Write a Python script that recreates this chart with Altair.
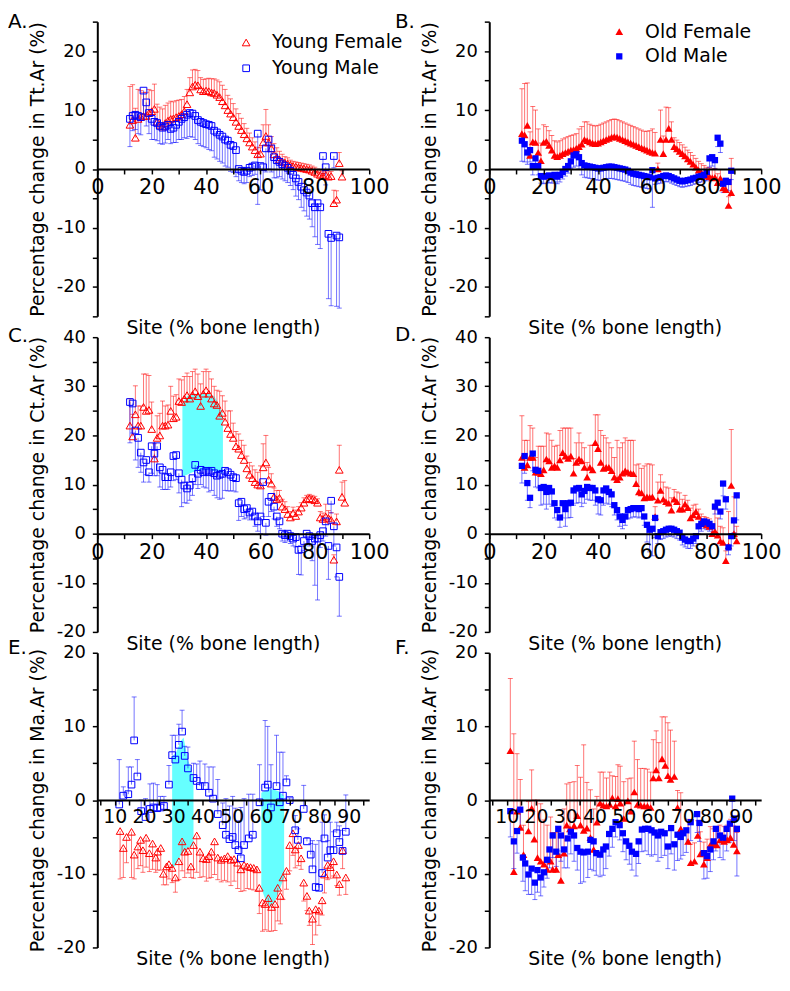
import altair as alt
import pandas as pd

FONT = "DejaVu Sans"
RED = "#ff0000"
BLUE = "#0000ff"
CYAN = "#66ffff"
W, H = 274, 297

# ---------------- Panel A: Tt.Ar, young ----------------
A_f_site = list(range(12, 91))
A_f_val = [7.5, 8.3, 5.3, 8.5, 8.8, 9.0, 9.0, 9.5, 9.8, 10.2,
           8.0, 7.5, 7.2, 7.8, 8.2, 8.5, 8.6, 8.8, 9.0, 9.3,
           9.8, 11.0, 13.0, 14.0, 14.3, 14.2, 13.5, 13.2, 13.3, 13.2,
           13.0, 12.9, 12.6, 12.2, 11.5, 10.8, 10.0, 9.4, 8.8, 8.0,
           7.3, 6.6, 5.9, 5.2, 4.5, 3.8, 3.2, 2.5, 2.6, 4.5,
           5.6, 4.5, 3.5, 2.5, 2.0, 1.6, 1.3, 1.1, 0.9, 0.7,
           0.5, 0.4, 0.3, 0.2, 0.1, 0.0, -0.1, -0.3, -0.5, -0.8,
           -1.0, -1.2, -1.0, -1.3, -1.2, -5.8, -5.2, 1.0, -1.3]
A_f_err = [6.5, 6.0, 5.0, 5.0, 4.5, 4.0, 4.0, 4.0, 3.5, 4.2,
           3.0, 3.0, 3.0, 3.0, 3.0, 3.0, 2.8, 2.8, 2.7, 2.5,
           2.5, 2.5, 2.5, 2.8, 2.6, 2.5, 2.0, 2.0, 2.0, 2.2,
           2.3, 2.4, 2.5, 2.6, 2.7, 2.7, 2.5, 2.5, 2.3, 2.2,
           2.1, 2.0, 1.8, 1.7, 1.6, 1.5, 1.4, 1.2, 1.0, 3.0,
           4.5, 3.0, 2.0, 1.8, 1.6, 1.4, 1.2, 1.0, 1.0, 0.8,
           0.8, 0.8, 0.8, 0.8, 0.8, 0.8, 0.8, 0.8, 0.8, 0.8,
           0.8, 0.8, 0.8, 0.8, 0.8, 2.2, 1.5, 1.8, 1.0]
A_m_site = list(range(12, 90))
A_m_val = [8.5, 9.0, 9.2, 9.0, 8.8, 13.3, 11.3, 9.5, 8.5, 8.0,
           7.8, 7.3, 7.0, 7.2, 7.5, 6.8, 7.0, 7.5, 8.0, 8.5,
           8.8, 9.2, 9.5, 9.4, 9.0, 8.3, 8.0, 7.8, 7.6, 7.5,
           7.3, 6.5, 6.2, 5.8, 5.5, 5.0, 4.8, 4.1, 3.9, 3.2,
           0.0, -0.3, -0.5, -0.3, 0.2, 0.4, 0.6, 6.0, 0.5, 0.3,
           3.5, 5.0, 3.5, 2.0, 1.5, 1.2, 0.8, 0.5, 0.2, -0.3,
           -1.0, -1.6, -2.2, -3.0, -3.6, -4.0, -4.5, -5.8, -6.5, -5.8,
           -6.5, 2.2, 0.3, -11.0, -11.7, 2.2, -11.3, -11.6]
A_m_err = [4.7, 2.5, 2.5, 3.0, 3.0, 4.0, 4.0, 3.5, 3.5, 3.0,
           3.0, 3.0, 2.8, 2.8, 2.5, 2.5, 2.5, 3.0, 3.0, 3.5,
           3.5, 4.0, 4.0, 4.0, 4.0, 4.0, 4.0, 4.0, 4.0, 4.2,
           4.2, 4.5, 4.5, 4.5, 4.5, 4.5, 4.5, 4.5, 4.5, 4.5,
           2.0, 2.0, 2.0, 2.0, 1.5, 1.5, 1.5, 12.0, 4.0, 4.0,
           4.0, 5.0, 4.0, 3.5, 3.0, 2.5, 2.5, 2.5, 2.5, 2.5,
           2.5, 3.0, 3.0, 3.5, 3.5, 4.0, 4.0, 4.0, 5.0, 7.0,
           7.0, 3.0, 3.0, 11.0, 11.5, 2.0, 12.0, 12.0]

# ---------------- Panel B: Tt.Ar, old ----------------
B_f_site = list(range(12, 90))
B_f_val = [6.0, 5.8, 7.4, 2.3, 4.6, 4.5, 2.8, 1.4, 4.5, 4.7,
           4.0, 3.2, 2.3, 2.1, 2.3, 2.6, 2.8, 3.0, 3.2, 3.3,
           3.5, 3.8, 4.2, 5.0, 4.8, 4.6, 4.4, 4.3, 4.4, 4.6,
           4.8, 5.0, 5.2, 5.4, 5.5, 5.4, 5.2, 5.0, 4.8, 4.6,
           4.4, 4.2, 4.0, 3.8, 3.6, 3.4, 3.2, 3.0, 2.8, 2.7,
           0.0, 5.0, 2.6, 5.0, 6.9, 5.0, 3.8, 3.4, 3.0, 2.6,
           2.2, 1.7, 1.3, 0.8, 0.3, -0.2, -0.6, -0.9, -1.2, -1.3,
           -1.5, -1.4, -2.3, -1.6, -3.2, -3.5, -6.2, -4.0]
B_f_err = [7.6, 8.7, 7.2, 4.0, 6.0, 5.5, 4.0, 3.0, 3.0, 2.5,
           2.5, 2.5, 2.5, 2.5, 2.5, 2.5, 2.5, 2.5, 2.5, 2.5,
           2.5, 3.0, 3.0, 3.0, 3.2, 3.0, 3.0, 3.0, 3.0, 3.0,
           3.0, 3.0, 3.0, 3.0, 3.0, 3.0, 3.0, 3.0, 3.0, 3.0,
           3.0, 3.0, 3.0, 3.0, 3.0, 3.0, 3.2, 3.5, 4.0, 3.5,
           1.0, 5.0, 3.0, 5.5, 3.5, 3.0, 1.5, 1.5, 1.5, 1.5,
           1.5, 1.5, 1.5, 1.5, 1.5, 1.5, 1.5, 1.5, 1.5, 1.5,
           1.5, 1.5, 1.5, 1.5, 1.5, 1.5, 1.5, 5.8]
B_m_site = list(range(12, 90))
B_m_val = [4.8, 4.2, 2.8, 3.2, 0.5, 1.8, 0.5, -1.2, -1.3, -1.2,
           -1.1, -1.2, -1.0, -1.3, -1.0, -0.5, 0.0, 0.5, 1.3, 2.3,
           2.5, 2.0, 1.0, 0.6, 0.5, 0.4, 0.3, 0.2, 0.1, 0.1,
           0.2, 0.3, 0.4, 0.4, 0.3, 0.2, 0.1, 0.0, -0.1, -0.3,
           -0.6, -0.8, -0.9, -1.0, -1.1, -1.2, -1.3, -1.4, -0.2, -1.6,
           -1.5, -1.4, -1.2, -1.1, -1.2, -1.4, -1.6, -1.8, -2.0, -2.1,
           -2.0, -1.9, -1.8, -1.6, -1.5, -1.3, -1.2, -1.0, -0.5, 1.8,
           2.0, 1.5, 5.3, 4.3, -2.5, -2.0, -2.2, -0.3]
B_m_err = [3.5, 3.0, 2.0, 2.0, 1.5, 1.5, 1.5, 1.2, 1.2, 1.2,
           1.2, 1.2, 1.2, 1.2, 1.2, 1.2, 1.2, 1.2, 1.2, 2.0,
           2.0, 2.0, 2.0, 2.0, 2.0, 2.0, 2.0, 2.0, 2.0, 2.0,
           2.0, 2.0, 2.0, 2.0, 2.0, 2.0, 2.0, 2.0, 2.0, 2.0,
           2.0, 2.0, 2.0, 2.0, 2.0, 2.0, 2.0, 2.0, 6.3, 1.0,
           1.0, 1.0, 1.0, 1.0, 1.0, 1.0, 1.0, 1.0, 1.0, 1.0,
           1.0, 1.0, 1.0, 1.0, 1.0, 1.0, 1.0, 1.0, 1.5, 1.5,
           1.5, 1.5, 1.5, 1.5, 1.5, 1.5, 1.5, 1.5]

# ---------------- Panel C: Ct.Ar, young ----------------
C_f_site = list(range(12, 92))
C_f_val = [22.0, 19.8, 24.3, 22.0, 22.0, 25.8, 25.0, 25.2, 21.3, 15.3,
           19.5, 20.0, 22.0, 22.0, 22.2, 25.0, 23.5, 23.8, 27.0, 26.8,
           27.5, 28.2, 27.5, 28.3, 29.0, 28.0, 26.0, 28.5, 29.2, 28.5,
           27.5, 26.5, 26.2, 24.0, 24.6, 22.8, 21.5, 20.3, 19.5, 17.8,
           17.3, 16.0, 15.0, 13.3, 12.0, 11.3, 10.5, 10.0, 9.8, 13.5,
           14.5, 11.0, 10.2, 7.5, 7.0, 7.3, 5.5, 5.0, 4.0, 3.3,
           4.2, 3.6, 4.5, 5.3, 6.3, 7.0, 7.2, 7.0, 6.8, 6.3,
           3.3, 3.0, 3.5, 3.2, 2.8, -5.3, 2.5, 13.0, 7.5, 6.3]
C_f_err = [5.5, 4.5, 5.8, 4.0, 4.0, 6.7, 7.5, 7.0, 5.5, 3.0,
           4.5, 4.5, 5.0, 4.0, 4.0, 5.0, 4.5, 4.5, 4.5, 4.5,
           4.5, 4.5, 4.5, 4.7, 4.5, 4.5, 4.5, 4.5, 4.3, 4.5,
           4.0, 3.5, 3.0, 5.0, 3.5, 4.2, 3.5, 4.7, 3.0, 3.0,
           3.0, 3.0, 3.0, 2.5, 2.5, 2.5, 2.5, 2.5, 4.0, 4.8,
           5.5, 2.5, 2.0, 1.8, 1.8, 1.5, 1.5, 1.5, 1.5, 1.2,
           1.2, 1.2, 1.0, 1.0, 1.0, 0.8, 0.8, 0.8, 0.8, 0.8,
           1.2, 1.2, 2.5, 1.5, 1.5, 1.0, 1.5, 5.0, 3.0, 4.5]
C_m_site = list(range(12, 90))
C_m_val = [26.8, 26.5, 21.0, 19.5, 16.5, 14.5, 15.0, 12.5, 17.8, 16.3,
           17.8, 13.5, 13.0, 11.5, 11.5, 12.5, 15.8, 16.0, 12.3, 11.0,
           9.8, 9.2, 9.8, 11.3, 14.0, 12.2, 13.0, 12.5, 12.8, 12.5,
           12.8, 12.3, 11.8, 12.0, 12.2, 12.8, 12.5, 12.0, 11.5, 11.3,
           6.2, 6.5, 5.0, 5.2, 4.3, 4.5, 3.5, 2.5, 3.5, 10.5,
           2.2, 6.5, 7.5, 5.5, 3.5, 2.5, 0.0, -0.3, 0.0, -0.5,
           -1.0, -0.7, -3.3, -3.2, -1.5, 0.0, -0.5, -1.5, -1.0, -1.0,
           -0.3, 0.5, 2.5, -2.5, 6.7, 1.5, -2.8, -8.8]
C_m_err = [8.3, 6.0, 6.0, 6.0, 4.0, 4.0, 3.0, 2.0, 5.5, 4.5,
           6.0, 4.0, 4.0, 2.5, 2.5, 3.0, 5.0, 5.0, 4.0, 5.5,
           3.5, 3.0, 3.0, 3.5, 4.0, 3.0, 3.0, 3.0, 3.5, 4.0,
           4.0, 4.5, 4.5, 5.0, 5.0, 4.0, 3.8, 3.3, 2.8, 2.8,
           3.5, 3.0, 2.0, 2.0, 1.5, 1.5, 2.0, 2.0, 3.5, 7.0,
           2.5, 3.0, 3.0, 2.5, 2.0, 1.5, 1.5, 1.5, 1.5, 1.5,
           1.5, 2.0, 5.0, 5.2, 2.0, 2.0, 2.0, 4.0, 9.5, 12.5,
           2.5, 2.0, 3.0, 6.8, 2.5, 4.0, 6.0, 8.0]
C_shade_site = [31.3, 33, 35, 37, 39, 41, 43, 44.5, 46.2]
C_shade_top = [26.5, 28.0, 28.5, 28.5, 28.5, 28.5, 28.0, 26.5, 24.2]
C_shade_bot = [11.6, 12.0, 12.5, 12.8, 12.9, 12.9, 12.7, 12.5, 12.3]

# ---------------- Panel D: Ct.Ar, old ----------------
D_f_site = list(range(12, 92))
D_f_val = [15.5, 13.5, 14.0, 15.5, 15.5, 12.5, 12.5, 12.2, 13.0, 15.2,
           14.8, 13.5, 13.8, 13.5, 15.0, 16.5, 15.8, 15.3, 15.8, 12.3,
           14.5, 15.2, 14.8, 13.5, 11.5, 13.5, 13.0, 18.5, 17.3, 14.5,
           13.3, 13.5, 13.5, 12.8, 11.5, 11.0, 11.5, 12.3, 12.8, 12.5,
           12.3, 12.2, 10.2, 8.5, 8.3, 7.3, 7.5, 7.4, 7.5, 3.5,
           6.8, 8.8, 7.0, 6.5, 6.2, 4.8, 7.0, 6.5, 5.0, 5.0,
           6.0, 5.3, 3.2, 3.8, 4.5, 3.5, 2.5, 2.0, 1.8, 1.5,
           0.0, 0.5, -0.3, -1.5, -1.8, -5.5, -2.5, 9.8, 0.0, -1.5]
D_f_err = [8.5, 5.5, 5.0, 6.5, 6.0, 3.0, 5.3, 5.6, 4.8, 5.3,
           5.5, 5.5, 4.0, 4.5, 6.0, 5.0, 5.7, 6.2, 5.7, 3.0,
           4.0, 5.3, 3.7, 4.0, 3.0, 4.5, 5.0, 5.7, 6.9, 6.5,
           6.7, 6.0, 5.0, 4.7, 4.0, 8.0, 6.0, 6.2, 6.7, 6.5,
           6.7, 6.8, 3.8, 5.7, 5.0, 6.5, 6.7, 6.8, 6.5, 2.0,
           3.7, 3.2, 3.5, 3.0, 3.1, 2.5, 2.0, 2.0, 3.3, 2.0,
           1.8, 1.5, 2.0, 2.0, 1.5, 1.5, 1.5, 1.5, 1.5, 1.5,
           2.0, 4.5, 3.5, 3.0, 3.0, 2.0, 7.0, 11.4, 7.5, 3.0]
D_m_site = list(range(12, 92))
D_m_val = [13.8, 15.8, 10.3, 7.3, 16.3, 13.0, 12.8, 9.3, 9.5, 8.5,
           9.3, 8.6, 6.2, 4.8, 3.3, 6.2, 5.0, 6.2, 6.3, 8.8,
           9.2, 9.3, 8.0, 8.7, 9.5, 9.3, 9.3, 8.8, 7.0, 6.8,
           8.8, 9.2, 8.5, 8.0, 5.8, 4.8, 3.5, 2.8, 3.5, 4.8,
           5.0, 5.2, 5.2, 5.0, 5.2, 3.5, 1.8, 0.8, 1.0, 3.2,
           -0.5, 0.3, 0.5, 0.8, 1.0, 1.0, 0.8, 0.5, 0.2, -0.8,
           -1.2, -1.5, -1.5, -1.0, -0.5, 1.5, 2.0, 2.5, 2.3, 2.0,
           1.5, 5.5, 6.3, 4.5, 10.2, 7.0, -2.8, -0.5, 2.7, 7.8]
D_m_err = [3.5, 3.5, 3.5, 2.0, 3.5, 3.5, 3.5, 3.5, 3.5, 3.5,
           3.3, 3.0, 3.0, 2.0, 2.0, 3.0, 3.5, 3.0, 3.0, 3.0,
           3.0, 3.0, 2.5, 2.5, 2.5, 2.5, 2.5, 3.0, 3.0, 3.0,
           3.0, 3.0, 2.5, 2.5, 2.0, 2.0, 2.0, 1.8, 1.8, 1.8,
           1.8, 1.8, 1.8, 1.8, 1.8, 1.8, 3.5, 4.5, 5.5, 4.0,
           1.5, 1.5, 1.5, 1.5, 1.5, 1.5, 1.5, 1.5, 1.5, 1.5,
           1.5, 1.5, 1.5, 1.5, 1.5, 1.5, 1.5, 1.5, 1.5, 1.5,
           1.5, 1.5, 1.5, 1.5, 2.5, 2.0, 1.5, 2.0, 2.5, 5.0]

# ---------------- Panel E: Ma.Ar, young ----------------
E_m_site = [11.5, 12.9, 14.6, 15.7, 16.6, 17.7, 19.0, 20.5, 22.0, 23.2,
            24.5, 25.6, 26.8, 28.5, 29.6, 30.7, 31.9, 33.0, 33.9, 35.0,
            36.9, 38.0, 39.1, 40.8, 42.2, 43.6, 45.2, 46.9, 48.0, 49.2,
            50.3, 51.2, 52.3, 53.1, 54.2, 55.8, 57.2, 59.5, 61.4, 62.3,
            63.4, 65.3, 66.4, 67.5, 68.7, 69.8, 71.7, 72.6, 74.6, 75.7,
            77.0, 77.6, 78.7, 79.8, 80.9, 81.7, 82.8, 83.7, 84.8, 85.9,
            86.8, 87.9, 89.0]
E_m_val = [-0.6, 0.6, 0.8, 2.1, 8.1, 3.2, -1.5, -2.3, -1.2, -1.0,
           -1.1, -1.0, -0.8, 2.1, 6.1, 5.5, 7.5, 9.3, 6.0, 4.3,
           3.0, 2.6, 1.9, 1.9, 1.0, 0.2, -1.9, -3.4, -4.7, -5.3,
           -5.0, -6.1, -6.8, -7.9, -6.1, -5.2, -4.7, -0.3, 1.7, 2.1,
           -1.0, 1.9, -0.3, 0.6, 2.4, 0.0, -4.1, -5.4, -1.2, -5.6,
           -7.4, -9.4, -11.8, -11.9, -9.9, -5.2, -7.8, -6.8, -6.8, -4.5,
           -5.7, -6.9, -4.3]
E_m_err = [6.1, 1.2, 3.7, 2.4, 5.9, 2.3, 1.5, 2.5, 3.4, 3.3,
           3.2, 1.5, 1.3, 2.6, 2.7, 3.3, 2.8, 2.9, 1.3, 2.9,
           2.0, 2.3, 3.4, 3.0, 3.5, 4.3, 4.7, 3.0, 4.9, 4.5,
           5.5, 5.0, 4.0, 6.9, 6.3, 6.0, 5.5, 5.1, 9.1, 7.9,
           5.8, 6.9, 6.8, 5.9, 0.9, 0.3, 2.0, 1.5, 3.2, 0.5,
           1.5, 3.9, 5.8, 6.4, 6.9, 3.2, 2.3, 3.8, 2.5, 1.5,
           2.2, 2.8, 5.0]
E_f_site = [11.8, 12.9, 14.0, 15.7, 16.6, 17.9, 18.8, 19.6, 20.7, 21.8,
            22.9, 24.0, 24.6, 25.7, 26.6, 27.7, 28.5, 29.6, 30.7, 31.9,
            33.0, 33.9, 35.0, 36.0, 36.9, 38.0, 39.1, 40.2, 41.3, 42.2,
            43.0, 44.1, 45.2, 46.4, 47.5, 48.6, 49.7, 50.8, 52.0, 53.1,
            54.2, 55.3, 56.4, 57.5, 58.6, 59.4, 60.5, 61.4, 62.5, 63.6,
            64.8, 65.7, 66.6, 67.5, 68.7, 69.8, 70.9, 71.7, 72.8, 73.7,
            74.6, 75.7, 76.5, 77.6, 78.7, 79.8, 80.9, 81.7, 82.8, 83.7,
            84.8, 85.9, 86.8, 87.9, 89.0]
E_f_val = [-4.2, -6.5, -5.0, -4.3, -7.4, -6.3, -5.4, -6.8, -5.1, -7.2,
           -5.9, -7.8, -7.0, -6.5, -10.0, -9.0, -8.7, -9.2, -10.5, -8.3,
           -5.6, -7.0, -6.9, -9.0, -6.1, -4.8, -7.0, -7.9, -8.0, -7.6,
           -7.0, -5.6, -7.8, -8.1, -7.9, -7.6, -8.1, -8.0, -8.5, -9.4,
           -8.8, -9.0, -9.1, -9.2, -9.4, -11.9, -13.9, -14.1, -13.3, -14.5,
           -14.1, -11.9, -13.0, -10.5, -9.6, -6.1, -4.5, -6.7, -6.1, -7.9,
           -11.2, -13.0, -15.0, -16.1, -14.8, -15.0, -13.6, -10.1, -8.8, -9.1,
           -8.3, -10.1, -11.4, -6.8, -10.5]
E_f_err = [6.5, 4.0, 3.5, 6.2, 3.3, 3.0, 3.5, 3.0, 4.0, 2.5,
           3.5, 2.0, 2.5, 3.0, 1.5, 2.5, 2.0, 2.0, 2.0, 2.5,
           4.0, 3.5, 3.0, 1.5, 4.5, 5.0, 3.5, 2.5, 3.0, 3.0,
           3.5, 4.5, 3.0, 3.0, 3.0, 3.5, 3.5, 3.0, 3.5, 3.0,
           3.5, 3.0, 3.0, 3.0, 3.0, 3.5, 3.9, 3.5, 4.5, 3.3,
           3.6, 4.5, 3.8, 3.0, 2.5, 3.5, 3.0, 2.5, 2.8, 1.5,
           2.5, 2.0, 2.0, 3.5, 3.5, 2.0, 2.0, 2.5, 2.0, 1.5,
           2.0, 1.5, 1.5, 2.5, 2.3]
E_shade1_site = [29.6, 31.0, 32.5, 33.5, 35.0, 36.9]
E_shade1_top = [5.9, 6.5, 8.0, 8.5, 5.5, 3.2]
E_shade1_bot = [-9.2, -8.8, -7.5, -7.0, -6.5, -6.1]
E_shade2_site = [60.1, 61.5, 63.0, 64.5, 66.0, 67.9]
E_shade2_top = [1.0, 1.3, 1.5, 1.4, 1.2, 0.6]
E_shade2_bot = [-12.0, -13.5, -14.5, -14.0, -12.5, -10.5]

# ---------------- Panel F: Ma.Ar, old ----------------
F_f_site = [11.2, 12.4, 13.5, 14.6, 15.7, 17.4, 18.5, 19.4, 20.5, 21.6,
            22.7, 23.8, 25.0, 25.7, 26.9, 27.6, 28.5, 29.6, 30.5, 31.6,
            33.0, 34.1, 35.2, 36.3, 37.4, 38.6, 39.7, 40.8, 41.9, 43.0,
            44.1, 45.2, 46.1, 47.2, 48.0, 48.8, 50.0, 51.4, 52.5, 53.6,
            54.7, 55.8, 57.0, 58.1, 59.2, 60.1, 61.1, 62.0, 63.1, 64.2,
            65.1, 66.0, 67.3, 68.4, 69.5, 72.0, 72.9, 74.2, 75.3, 76.2,
            77.4, 78.5, 79.6, 80.7, 81.8, 82.9, 84.3, 85.4, 86.5, 87.6,
            88.7]
F_f_val = [6.7, -9.7, -1.5, -3.7, -7.4, -4.2, -1.1, -5.3, -7.8, -8.3,
           -8.7, -9.4, -8.3, -9.4, -9.4, -7.4, -10.9, -7.2, -3.4, -3.9,
           -3.5, -2.1, -3.4, -4.1, -3.8, -5.1, -6.7, -3.0, -0.4, -0.7,
           -0.8, -0.6, 0.3, -0.8, 0.2, -0.4, -2.5, -0.1, -1.5, 1.1,
           -0.6, -0.7, -0.8, -0.8, -1.0, 3.0, 4.1, 3.0, 5.6, 4.7,
           3.3, 2.8, 3.2, -1.0, -3.9, -5.6, -8.5, -8.3, -4.8, -7.3,
           -8.7, -7.8, -6.1, -5.9, -6.1, -5.4, -5.6, -5.4, -5.1, -6.0,
           -6.9]
F_f_err = [9.8, 18.7, 7.8, 6.5, 4.0, 4.0, 5.2, 5.3, 7.8, 7.8,
           6.0, 6.0, 6.0, 5.0, 5.0, 3.5, 3.5, 6.0, 5.6, 6.3,
           6.0, 6.8, 6.5, 11.6, 6.2, 6.5, 5.5, 3.5, 4.2, 4.5,
           3.8, 4.4, 3.0, 4.0, 4.6, 5.0, 5.0, 3.0, 4.5, 6.9,
           6.1, 5.0, 5.1, 5.0, 4.8, 5.2, 5.3, 4.8, 5.7, 6.6,
           7.2, 6.7, 4.8, 2.3, 4.9, 3.0, 2.5, 2.5, 2.0, 3.0,
           3.0, 2.5, 2.5, 2.0, 2.0, 2.0, 2.0, 2.0, 2.5, 2.5,
           2.5]
F_m_site = [11.2, 12.4, 13.5, 14.6, 15.5, 16.3, 17.4, 18.5, 19.6, 20.5,
            21.6, 22.7, 23.8, 24.6, 25.7, 26.9, 27.6, 28.5, 29.6, 30.8,
            31.9, 33.0, 34.1, 35.2, 36.3, 37.7, 38.6, 39.7, 40.6, 41.9,
            43.0, 43.9, 45.0, 46.1, 47.2, 48.6, 49.7, 50.8, 51.9, 52.8,
            54.2, 55.1, 56.2, 57.3, 58.4, 59.5, 60.6, 61.7, 62.8, 64.0,
            65.1, 66.2, 67.3, 68.4, 69.5, 70.3, 71.4, 72.9, 75.1, 75.9,
            77.4, 78.5, 79.6, 80.7, 81.5, 82.9, 84.0, 85.2, 86.3, 87.1,
            87.8, 88.7]
F_m_val = [-1.5, -5.6, -4.2, -1.3, -7.8, -8.6, -10.1, -9.3, -11.2, -9.5,
           -10.5, -9.8, -8.1, -6.7, -4.8, -7.0, -3.9, -4.8, -6.7, -5.2,
           -4.3, -4.8, -6.5, -7.0, -7.1, -7.0, -5.4, -5.6, -7.2, -7.4,
           -6.7, -6.3, -4.6, -3.9, -3.0, -3.4, -4.5, -5.6, -6.2, -7.0,
           -7.3, -5.6, -4.0, -3.9, -3.9, -4.1, -4.4, -4.8, -4.3, -4.5,
           -6.3, -3.8, -6.0, -4.7, -5.0, -4.5, -4.1, -3.0, -1.9, -3.1,
           -7.2, -7.6, -6.7, -5.6, -3.9, -4.8, -5.1, -3.9, -3.2, 0.2,
           -2.5, -3.9]
F_m_err = [3.5, 3.7, 3.0, 2.5, 3.2, 3.7, 2.7, 3.5, 2.3, 3.0,
           2.5, 2.0, 2.5, 2.5, 3.0, 2.0, 3.0, 3.5, 2.5, 4.0,
           3.0, 3.5, 3.0, 4.3, 4.0, 3.5, 4.0, 4.0, 3.0, 3.0,
           3.5, 3.0, 3.0, 2.5, 2.0, 2.0, 2.5, 2.5, 2.5, 2.5,
           3.0, 3.0, 3.0, 3.0, 3.5, 3.5, 3.0, 3.5, 3.5, 3.0,
           3.0, 3.5, 3.5, 3.5, 3.0, 3.0, 3.0, 2.5, 2.5, 2.5,
           3.5, 3.0, 3.0, 2.5, 3.0, 3.0, 3.0, 3.0, 2.5, 2.5,
           3.0, 6.4]

ONE = pd.DataFrame({"k": [0]})


def text_layer(txt, x, y, size, align="left"):
    return alt.Chart(ONE).mark_text(
        text=txt, font=FONT, fontSize=size, align=align, baseline="middle", color="black"
    ).encode(x=alt.value(x), y=alt.value(y))


def sym_layer(x, y, shape, filled, color, size):
    return alt.Chart(ONE).mark_point(
        shape=shape, filled=filled, size=size, color=color, opacity=1, strokeWidth=1
    ).encode(x=alt.value(x), y=alt.value(y))


def make_panel(p):
    ymin, ymax = p["ydom"]
    off = -H * (-ymin) / (ymax - ymin)
    xaxis = alt.Axis(
        values=p["xticks"], labelExpr=p["xlabel_expr"], offset=off, title=None, grid=False,
        tickSize=5, tickWidth=1.5, domainWidth=2, labelFontSize=p["xls"], labelPadding=3,
        labelFlush=False, labelOverlap=False, zindex=1, labelFont=FONT,
        domainColor="black", tickColor="black", labelColor="black",
    )
    yaxis = alt.Axis(
        values=p["yticks"], labelExpr="datum.value % 10 == 0 ? '' + datum.value : ''",
        title=p["ytitle"], titleFontSize=19, titleFontWeight="normal", titlePadding=9,
        titleFont=FONT, titleColor="black", grid=False, tickSize=5, tickWidth=1.5,
        domainWidth=2, labelFontSize=18, labelPadding=7, labelOverlap=False,
        labelFont=FONT, domainColor="black", tickColor="black", labelColor="black",
    )
    xs = alt.Scale(domain=list(p["xdom"]), nice=False, zero=False)
    ys = alt.Scale(domain=[ymin, ymax], nice=False, zero=False)

    def X():
        return alt.X("site:Q", scale=xs, axis=xaxis)

    def Y(f):
        return alt.Y(f + ":Q", scale=ys, axis=yaxis)

    layers = []
    for (s, t, b) in p["shades"]:
        sh = pd.DataFrame({"site": s, "top": t, "bot": b})
        layers.append(alt.Chart(sh).mark_area(color=CYAN, opacity=1).encode(
            x=X(), y=Y("top"), y2="bot"))
    for (site, val, err, d, color, shape, filled, size) in p["series"]:
        df = pd.DataFrame({"site": site, "val": val, "err": err})
        df["end"] = df["val"] + d * df["err"]
        base = alt.Chart(df)
        layers.append(base.mark_rule(color=color, opacity=0.55, strokeWidth=1).encode(
            x=X(), y=Y("val"), y2="end"))
        layers.append(base.mark_tick(color=color, opacity=0.55, orient="horizontal",
                                     size=5, thickness=1).encode(x=X(), y=Y("end")))
    for (site, val, err, d, color, shape, filled, size) in p["series"]:
        df = pd.DataFrame({"site": site, "val": val})
        layers.append(alt.Chart(df).mark_point(
            shape=shape, filled=filled, size=size, color=color, opacity=1, strokeWidth=1
        ).encode(x=X(), y=Y("val")))
    for (lx, ly, shape, filled, color, size, label) in p["legend"]:
        layers.append(sym_layer(lx, ly, shape, filled, color, size))
        layers.append(text_layer(label, lx + 26, ly, 19))
    layers.append(text_layer(p["letter"], p["lx"], p["ly"], 20))
    layers.append(text_layer("Site (% bone length)", W / 2 + p["xt_dx"], H + 12, 19, "center"))
    return alt.layer(*layers).properties(width=W, height=H)


XT_AD = list(range(0, 101, 10))
XL_AD = "datum.value % 20 == 0 ? '' + datum.value : ''"
XT_EF = list(range(5, 96, 5))
XL_EF = "datum.value % 10 == 0 ? '' + datum.value : ''"

TRI, SQ = "triangle-up", "square"
panels = [
    dict(letter="A.", lx=-90, ly=0, ytitle="Percentage change in Tt.Ar (%)", ydom=(-25, 25),
         yticks=list(range(-25, 26, 5)), xdom=(0, 100), xticks=XT_AD, xlabel_expr=XL_AD, xls=21,
         series=[(A_f_site, A_f_val, A_f_err, 1, RED, TRI, False, 60),
                 (A_m_site, A_m_val, A_m_err, -1, BLUE, SQ, False, 45)],
         shades=[], xt_dx=-10,
         legend=[(150, 21, TRI, False, RED, 60, "Young Female"),
                 (150, 47, SQ, False, BLUE, 45, "Young Male")]),
    dict(letter="B.", lx=-95, ly=0, ytitle="Percentage change in Tt.Ar (%)", ydom=(-25, 25),
         yticks=list(range(-25, 26, 5)), xdom=(0, 100), xticks=XT_AD, xlabel_expr=XL_AD, xls=21,
         series=[(B_f_site, B_f_val, B_f_err, 1, RED, TRI, True, 60),
                 (B_m_site, B_m_val, B_m_err, -1, BLUE, SQ, True, 40)],
         shades=[], xt_dx=0,
         legend=[(131, 10, TRI, True, RED, 60, "Old Female"),
                 (131, 35, SQ, True, BLUE, 40, "Old Male")]),
    dict(letter="C.", lx=-90, ly=-1, ytitle="Percentage change in Ct.Ar (%)", ydom=(-20, 40),
         yticks=list(range(-20, 41, 5)), xdom=(0, 100), xticks=XT_AD, xlabel_expr=XL_AD, xls=21,
         series=[(C_f_site, C_f_val, C_f_err, 1, RED, TRI, False, 60),
                 (C_m_site, C_m_val, C_m_err, -1, BLUE, SQ, False, 45)],
         shades=[(C_shade_site, C_shade_top, C_shade_bot)], xt_dx=-10, legend=[]),
    dict(letter="D.", lx=-95, ly=-2, ytitle="Percentage change in Ct.Ar (%)", ydom=(-20, 40),
         yticks=list(range(-20, 41, 5)), xdom=(0, 100), xticks=XT_AD, xlabel_expr=XL_AD, xls=21,
         series=[(D_f_site, D_f_val, D_f_err, 1, RED, TRI, True, 60),
                 (D_m_site, D_m_val, D_m_err, -1, BLUE, SQ, True, 40)],
         shades=[], xt_dx=0, legend=[]),
    dict(letter="E.", lx=-90, ly=-5, ytitle="Percentage change in Ma.Ar (%)", ydom=(-20, 20),
         yticks=list(range(-20, 21, 5)), xdom=(4, 97), xticks=XT_EF, xlabel_expr=XL_EF, xls=19,
         series=[(E_f_site, E_f_val, E_f_err, -1, RED, TRI, False, 60),
                 (E_m_site, E_m_val, E_m_err, 1, BLUE, SQ, False, 45)],
         shades=[(E_shade1_site, E_shade1_top, E_shade1_bot),
                 (E_shade2_site, E_shade2_top, E_shade2_bot)], xt_dx=0, legend=[]),
    dict(letter="F.", lx=-95, ly=-5, ytitle="Percentage change in Ma.Ar (%)", ydom=(-20, 20),
         yticks=list(range(-20, 21, 5)), xdom=(4, 97), xticks=XT_EF, xlabel_expr=XL_EF, xls=19,
         series=[(F_f_site, F_f_val, F_f_err, 1, RED, TRI, True, 60),
                 (F_m_site, F_m_val, F_m_err, -1, BLUE, SQ, True, 40)],
         shades=[], xt_dx=0, legend=[]),
]

charts = [make_panel(p) for p in panels]
chart = alt.concat(
    *charts, columns=2, spacing={"row": 21, "column": 121}, bounds="flush"
).resolve_scale(x="independent", y="independent").properties(
    padding={"left": 0, "top": 0, "right": 0, "bottom": 0},
    autosize=alt.AutoSizeParams(type="pad"),
).configure_view(stroke=None)

chart.save("out.html", embed_options={"renderer": "svg", "actions": False})
